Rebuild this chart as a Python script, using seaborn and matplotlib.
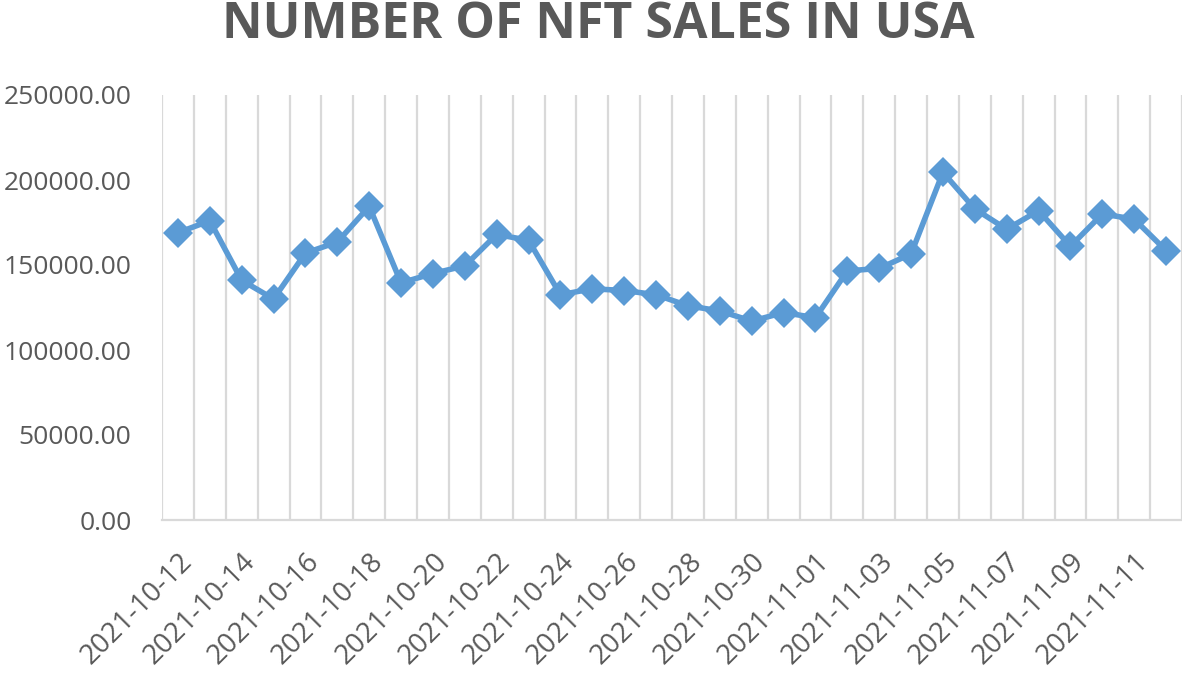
import numpy as np
import pandas as pd
import matplotlib
matplotlib.use("Agg")
import matplotlib.pyplot as plt
import seaborn as sns

# daily dates and sales
dates = pd.date_range("2021-10-12", "2021-11-12", freq="D").strftime("%Y-%m-%d").tolist()
sales = [169000, 176000, 141000, 130000, 157000, 163500, 184500, 139500,
         145000, 149500, 168000, 164500, 132500, 136000, 135000, 132500,
         126000, 123000, 117000, 122000, 119000, 146500, 148000, 156500,
         204500, 183000, 171000, 182000, 161000, 180000, 177000, 158500]
y_ticks = [0, 50000, 100000, 150000, 200000, 250000]

df = pd.DataFrame({"pos": np.arange(len(dates)), "date": dates, "sales": sales})

sns.set_theme(style="white")
plt.rcParams["font.family"] = ["Open Sans", "DejaVu Sans"]
text_color = "#595959"
grid_color = "#D9D9D9"

fig = plt.figure(figsize=(11.82, 6.77), dpi=100)
ax = fig.add_axes([162 / 1182, 157 / 677, 1020 / 1182, 425 / 677])

# vertical gridlines between categories
for b in np.arange(-0.5, len(dates) + 0.5, 1.0):
    ax.axvline(b, color=grid_color, linewidth=1.6, zorder=0)

sns.lineplot(data=df, x="pos", y="sales", ax=ax, color="#5B9BD5",
             linewidth=4, marker="D", markersize=15, markeredgewidth=0,
             zorder=3)

ax.set_xlim(-0.5, len(dates) - 0.5)
ax.set_ylim(0, 250000)
ax.set_yticks(y_ticks)
ax.set_yticklabels([f"{v:.2f}" for v in y_ticks], fontsize=19, color=text_color)
ax.set_xticks(df["pos"][::2])
ax.set_xticklabels(df["date"][::2], rotation=45, ha="right",
                   rotation_mode="anchor", fontsize=20, color=text_color)
ax.tick_params(axis="both", length=0)
ax.tick_params(axis="x", pad=20)
ax.tick_params(axis="y", pad=22)
ax.set_xlabel("")
ax.set_ylabel("")

for side in ["top", "right", "left"]:
    ax.spines[side].set_visible(False)
ax.spines["bottom"].set_color(grid_color)
ax.spines["bottom"].set_linewidth(1.6)

fig.text(598 / 1182, 1 - 38 / 677, "NUMBER OF NFT SALES IN USA",
         ha="center", va="baseline", fontsize=36, fontweight="bold",
         color=text_color)

fig.savefig("out.png", dpi=100)
